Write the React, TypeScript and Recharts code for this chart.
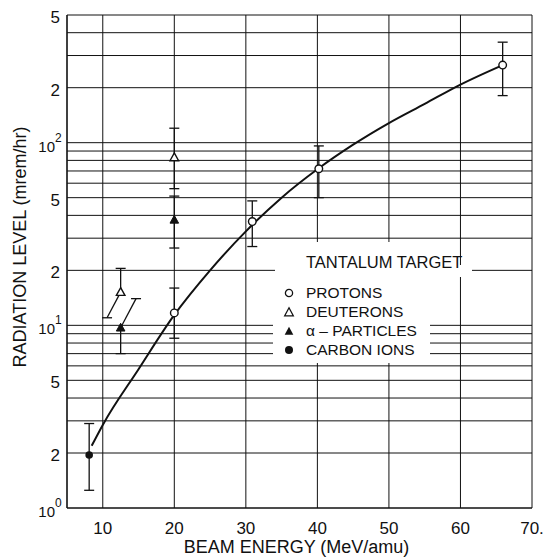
import React from 'react'
import { ComposedChart, Line, Scatter, XAxis, YAxis, CartesianGrid } from 'recharts'

// measured points (beam energy MeV/amu, radiation level mrem/hr, error bar ends)
const protons = [
  { x: 20, y: 11.7, lo: 8.5, hi: 16 },
  { x: 30.9, y: 37, lo: 27, hi: 48 },
  { x: 40.2, y: 72, lo: 50, hi: 96 },
  { x: 65.9, y: 266, lo: 181, hi: 355 },
]
const deuterons = [
  { x: 12.5, y: 15.2, lo: 11, loX: 10.6, hi: 20.5 },
  { x: 20, y: 83, lo: 56, hi: 120 },
]
const alphas = [
  { x: 12.5, y: 9.7, lo: 7.0, hi: 14, hiX: 14.65 },
  { x: 20, y: 37.8, lo: 26.5, hi: 51 },
]
const carbon = [{ x: 8.1, y: 1.95, lo: 1.25, hi: 2.9 }]

// fitted curve
const curveX = [8.45, 10, 15, 20, 25, 30, 35, 40, 45, 50, 55, 60, 65.9]
const curveY = [2.19, 2.85, 5.75, 11.4, 20, 32.7, 50, 71.5, 97.5, 128, 163, 208, 266]

const xTicks = [10, 20, 30, 40, 50, 60, 70]
const yTicks = [
  1, 2, 3, 4, 5, 6, 7, 8, 9,
  10, 20, 30, 40, 50, 60, 70, 80, 90,
  100, 200, 300, 400, 500,
]
const yLabels: Record<number, string> = { 1: '0', 2: '2', 5: '5', 10: '1', 20: '2', 50: '5', 100: '2', 200: '2', 500: '5' }
const yPowers = [1, 10, 100]

const FONT = '"Liberation Sans", Arial, sans-serif'
const INK = '#111'

const curve = curveX.map((x, i) => ({ x, y: curveY[i] }))

type Pt = { x: number; y: number; lo: number; hi: number; loX?: number; hiX?: number }
const errorSegments = (pts: Pt[]) =>
  pts.flatMap((p) => [
    [
      { x: p.loX ?? p.x, y: p.lo, cap: true },
      { x: p.x, y: p.y, cap: false },
    ],
    [
      { x: p.x, y: p.y, cap: false },
      { x: p.hiX ?? p.x, y: p.hi, cap: true },
    ],
  ])
const segments = [...errorSegments(protons), ...errorSegments(deuterons), ...errorSegments(alphas), ...errorSegments(carbon)]

const Cap = (props: any) => {
  const { cx, cy, payload } = props
  if (!payload.cap) return <g />
  return <line x1={cx - 5} x2={cx + 5} y1={cy} y2={cy} stroke={INK} strokeWidth={1.3} />
}
const OpenCircle = (props: any) => (
  <circle cx={props.cx} cy={props.cy} r={3.8} fill="#fff" stroke={INK} strokeWidth={1.4} />
)
const FilledCircle = (props: any) => <circle cx={props.cx} cy={props.cy} r={3.8} fill={INK} />
const tri = (cx: number, cy: number) => `M${cx},${cy - 4.5} L${cx + 4.3},${cy + 3.3} L${cx - 4.3},${cy + 3.3} Z`
const OpenTriangle = (props: any) => (
  <path d={tri(props.cx, props.cy)} fill="#fff" stroke={INK} strokeWidth={1.4} />
)
const FilledTriangle = (props: any) => <path d={tri(props.cx, props.cy)} fill={INK} stroke={INK} strokeWidth={1} />

const XTick = (props: any) => {
  const { x, y, payload } = props
  const v = payload.value
  return (
    <text x={x} y={y + 26} textAnchor="middle" fontSize={17} fontFamily={FONT} fill={INK}>
      {v === 70 ? '70.' : v}
    </text>
  )
}

const YTick = (props: any) => {
  const { x, y, payload } = props
  const v = payload.value
  const lab = yLabels[v]
  if (!lab) return <g />
  if (yPowers.includes(v)) {
    return (
      <g>
        <text x={x - 12} y={y + 9} textAnchor="end" fontSize={15} fontFamily={FONT} fill={INK}>
          10
        </text>
        <text x={x - 12} y={y - 1} textAnchor="start" fontSize={12} fontFamily={FONT} fill={INK}>
          {lab}
        </text>
      </g>
    )
  }
  return (
    <text x={x - 7} y={y + 8} textAnchor="end" fontSize={17} fontFamily={FONT} fill={INK}>
      {lab}
    </text>
  )
}

const legendItems = [
  { label: 'PROTONS', sym: 'oc' },
  { label: 'DEUTERONS', sym: 'ot' },
  { label: '\u03b1 \u2013 PARTICLES', sym: 'ft' },
  { label: 'CARBON IONS', sym: 'fc' },
]

const LegendSym = ({ sym }: { sym: string }) => (
  <svg width={12} height={12} style={{ display: 'block' }}>
    {sym === 'oc' && <circle cx={6} cy={6} r={3.6} fill="#fff" stroke={INK} strokeWidth={1.3} />}
    {sym === 'fc' && <circle cx={6} cy={6} r={4} fill={INK} />}
    {sym === 'ot' && <path d="M6,1.8 L10.3,9.8 L1.7,9.8 Z" fill="#fff" stroke={INK} strokeWidth={1.3} />}
    {sym === 'ft' && <path d="M6,1.8 L10.3,9.8 L1.7,9.8 Z" fill={INK} />}
  </svg>
)

export default function App() {
  return (
    <div style={{ position: 'absolute', left: 0, top: 0, width: 549, height: 557, background: '#fff' }}>
      <ComposedChart width={549} height={557} margin={{ top: 15, right: 17, bottom: 0, left: 7 }}>
        <CartesianGrid stroke={INK} strokeWidth={1} />
        <XAxis
          dataKey="x"
          type="number"
          domain={[5, 70]}
          ticks={xTicks}
          interval={0}
          allowDataOverflow
          height={49}
          tickLine={false}
          tickSize={0}
          tickMargin={0}
          axisLine={{ stroke: INK, strokeWidth: 1.2 }}
          tick={<XTick />}
          label={{
            content: (p: any) => {
              const vb = p.viewBox
              return (
                <text x={vb.x + vb.width / 2 - 3} y={553} textAnchor="middle" fontSize={18} fontFamily={FONT} fill={INK}>
                  BEAM ENERGY (MeV/amu)
                </text>
              )
            },
          }}
        />
        <YAxis
          type="number"
          scale="log"
          domain={[1, 500]}
          ticks={yTicks}
          interval={0}
          allowDataOverflow
          width={60}
          tickLine={false}
          tickSize={0}
          tickMargin={0}
          axisLine={{ stroke: INK, strokeWidth: 1.2 }}
          tick={<YTick />}
          label={{
            content: () => (
              <text
                x={20}
                y={247}
                transform="rotate(-90, 20, 247)"
                textAnchor="middle"
                dominantBaseline="central"
                fontSize={18}
                fontFamily={FONT}
                fill={INK}
              >
                RADIATION LEVEL  (mrem/hr)
              </text>
            ),
          }}
        />
        <Line data={curve} dataKey="y" type="monotone" stroke={INK} strokeWidth={2} dot={false} isAnimationActive={false} />
        {segments.map((seg, i) => (
          <Scatter
            key={'e' + i}
            data={seg}
            dataKey="y"
            line={{ stroke: INK, strokeWidth: 1.3 }}
            shape={<Cap />}
            isAnimationActive={false}
          />
        ))}
        <Scatter data={protons} dataKey="y" shape={<OpenCircle />} isAnimationActive={false} />
        <Scatter data={deuterons} dataKey="y" shape={<OpenTriangle />} isAnimationActive={false} />
        <Scatter data={alphas} dataKey="y" shape={<FilledTriangle />} isAnimationActive={false} />
        <Scatter data={carbon} dataKey="y" shape={<FilledCircle />} isAnimationActive={false} />
      </ComposedChart>

      {/* legend panel pasted over the grid */}
      <div style={{ position: 'absolute', left: 275, top: 242, width: 183, height: 35, background: '#fff' }} />
      <div style={{ position: 'absolute', left: 458, top: 265, width: 14, height: 12, background: '#fff' }} />
      <div style={{ position: 'absolute', left: 273, top: 277, width: 157, height: 86, background: '#fff' }} />
      <div
        style={{
          position: 'absolute',
          left: 306,
          top: 252,
          fontFamily: FONT,
          fontSize: 16.5,
          color: INK,
          lineHeight: '20px',
          whiteSpace: 'nowrap',
        }}
      >
        TANTALUM TARGET
      </div>
      <div style={{ position: 'absolute', left: 283, top: 283, fontFamily: FONT, fontSize: 15.5, color: INK }}>
        {legendItems.map((it) => (
          <div key={it.label} style={{ display: 'flex', alignItems: 'center', height: 19, whiteSpace: 'nowrap' }}>
            <div style={{ width: 23 }}>
              <LegendSym sym={it.sym} />
            </div>
            <span>{it.label}</span>
          </div>
        ))}
      </div>
    </div>
  )
}
